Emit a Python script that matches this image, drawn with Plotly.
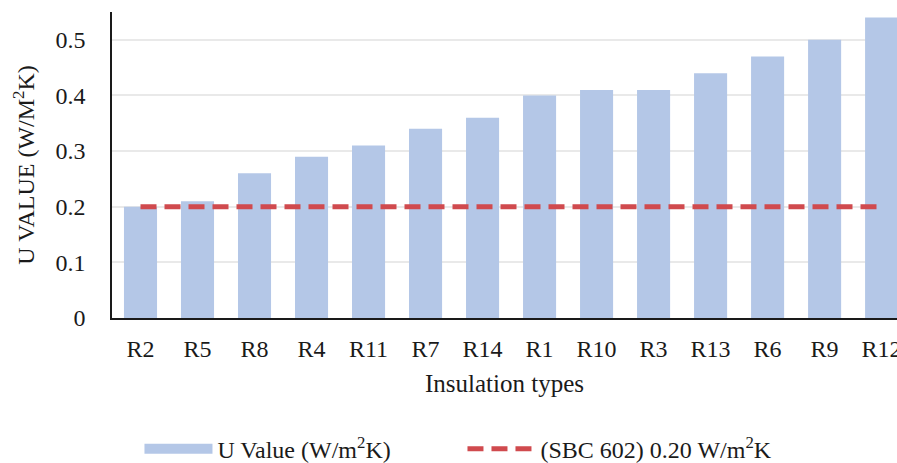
import plotly.graph_objects as go

categories = ["R2", "R5", "R8", "R4", "R11", "R7", "R14", "R1", "R10", "R3", "R13", "R6", "R9", "R12"]
u_values = [0.20, 0.21, 0.26, 0.29, 0.31, 0.34, 0.36, 0.40, 0.41, 0.41, 0.44, 0.47, 0.50, 0.54]
sbc_limit = [0.20] * len(categories)
y_ticks = [0, 0.1, 0.2, 0.3, 0.4, 0.5]
y_tick_text = ["0", "0.1", "0.2", "0.3", "0.4", "0.5"]

BAR_COLOR = "#B4C7E7"
LINE_COLOR = "#D04A4E"
FONT = "Liberation Serif"

fig = go.Figure()
fig.add_trace(go.Bar(
    x=categories, y=u_values, name="U Value (W/m<sup>2</sup>K)",
    marker=dict(color=BAR_COLOR, line=dict(width=0)),
    showlegend=False,
))
# legend swatch for bars (wide rectangle like the reference)
fig.add_trace(go.Scatter(
    x=[None], y=[None], mode="lines", name="U Value (W/m<sup>2</sup>K)",
    line=dict(color=BAR_COLOR, width=14),
))
fig.add_trace(go.Scatter(
    x=categories, y=sbc_limit, mode="lines", name="(SBC 602) 0.20 W/m<sup>2</sup>K",
    line=dict(color=LINE_COLOR, width=5, dash="16px,8px"),
))

fig.update_layout(
    width=897, height=463,
    margin=dict(l=112, r=0, t=12, b=145, pad=0),
    paper_bgcolor="white", plot_bgcolor="white",
    font=dict(family=FONT, size=24, color="#1a1a1a"),
    bargap=0.42,
    showlegend=True,
    legend=dict(
        orientation="h", xref="paper", x=0.035, xanchor="left",
        yref="container", y=0.03, yanchor="middle",
        font=dict(size=24), itemwidth=68, tracegroupgap=0,
        entrywidth=240,
        bgcolor="rgba(0,0,0,0)",
    ),
    xaxis=dict(
        range=[-0.5, 13.27], automargin=False,
        showline=True, linecolor="#1a1a1a", linewidth=1.5,
        showgrid=False, ticks="outside", ticklen=8, tickcolor="rgba(0,0,0,0)",
        title=dict(text="Insulation types", standoff=14, font=dict(size=25)),
    ),
    yaxis=dict(
        range=[0, 0.55], automargin=False,
        tickvals=y_ticks, ticktext=y_tick_text,
        showline=True, linecolor="#1a1a1a", linewidth=1.5,
        showgrid=True, gridcolor="#E9E9E9", gridwidth=1.5,
        zeroline=False,
        ticks="outside", ticklen=20, tickcolor="rgba(0,0,0,0)",
        title=dict(text="U VALUE (W/M<sup>2</sup>K)", standoff=14, font=dict(size=24)),
    ),
)

fig.write_html("out.html")
